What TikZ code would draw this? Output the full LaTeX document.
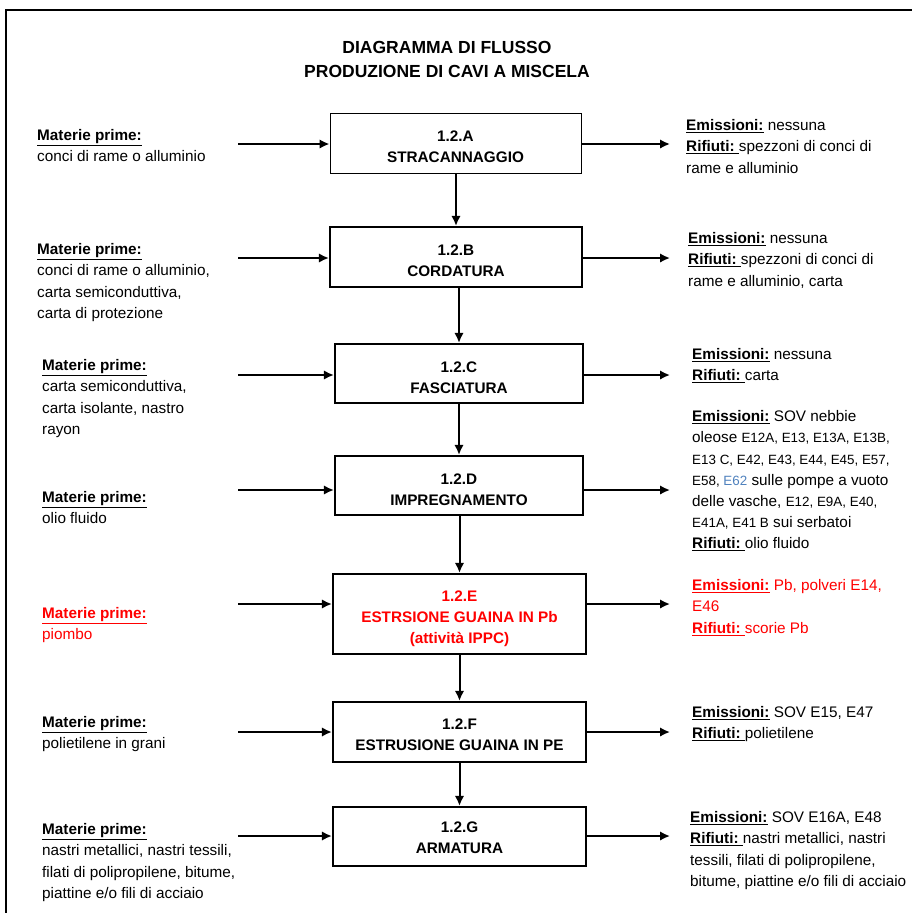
\documentclass[tikz,border=0pt]{standalone}
\usepackage{fontspec}
\setmainfont{Liberation Sans}
\usepackage{tikz}
\usetikzlibrary{arrows.meta}
\definecolor{rosso}{RGB}{255,0,0}
\definecolor{blu}{RGB}{79,129,189}
\tikzstyle{fase}=[draw,line width=2.2pt,minimum width=252pt,minimum height=60pt,inner sep=0pt,align=center,font=\fontsize{15.3}{21.2}\selectfont\bfseries,text height=40pt]
\tikzstyle{nota}=[anchor=north west,align=left,inner sep=0pt,font=\fontsize{15.3}{21.2}\selectfont]
\tikzstyle{flusso}=[draw,line width=2pt,-{Latex[length=10pt,width=9.5pt]}]
\newcommand{\matprime}{\underline{\textbf{Materie prime:}}}
\newcommand{\emiss}{\underline{\textbf{Emissioni:}}}
\newcommand{\rifiuti}{\underline{\textbf{Rifiuti:\ }}}
\newcommand{\cod}[1]{{\fontsize{13.4}{21.2}\selectfont #1}}

\begin{document}
\begin{tikzpicture}[x=1pt,y=-1pt]
    \useasboundingbox (0,0) rectangle (912,913);
    % Frame and title
    \draw[line width=2pt] (912,10) -- (6,10) -- (6,913);
    \node[align=center,font=\fontsize{17.5}{24}\selectfont\bfseries] (titolo) at (447,59)
        {DIAGRAMMA DI FLUSSO\\PRODUZIONE DI CAVI A MISCELA};

    % First we draw the phases
    \node[fase,line width=1pt,minimum width=251pt] (A) at (455.5,143) {1.2.A\\STRACANNAGGIO};
    \node[fase] (B) at (456,257) {1.2.B\\CORDATURA};
    \node[fase,minimum width=248pt,minimum height=59pt] (C) at (459,373.5) {1.2.C\\FASCIATURA};
    \node[fase,minimum width=248pt,minimum height=59pt] (D) at (459,485.5) {1.2.D\\IMPREGNAMENTO};
    \node[fase,minimum width=253pt,minimum height=80pt,text height=62pt,text=rosso] (E) at (459.5,614)
        {1.2.E\\ESTRSIONE GUAINA IN Pb\\(attività IPPC)};
    \node[fase,minimum width=253pt,text height=38pt] (F) at (459.5,732) {1.2.F\\ESTRUSIONE GUAINA IN PE};
    \node[fase,minimum width=253pt,minimum height=59pt,text height=35pt] (G) at (459.5,836.5) {1.2.G\\ARMATURA};

    % Raw materials on the left
    \node[nota] (matA) at (37,129.5) {\matprime\\conci di rame o alluminio};
    \node[nota] (matB) at (37,243.5) {\matprime\\conci di rame o alluminio,\\carta semiconduttiva,\\carta di protezione};
    \node[nota] (matC) at (42,359.5) {\matprime\\carta semiconduttiva,\\carta isolante, nastro\\rayon};
    \node[nota] (matD) at (42,491.5) {\matprime\\olio fluido};
    \node[nota,text=rosso] (matE) at (42,607.5) {\matprime\\piombo};
    \node[nota] (matF) at (42,716.5) {\matprime\\polietilene in grani};
    \node[nota] (matG) at (42,823.5) {\matprime\\nastri metallici, nastri tessili,\\filati di polipropilene, bitume,\\piattine e/o fili di acciaio};

    % Emissions and waste on the right
    \node[nota] (emA) at (686,119.5) {\emiss{} nessuna\\\rifiuti spezzoni di conci di\\rame e alluminio};
    \node[nota] (emB) at (688,232.5) {\emiss{} nessuna\\\rifiuti spezzoni di conci di\\rame e alluminio, carta};
    \node[nota] (emC) at (692,348.5) {\emiss{} nessuna\\\rifiuti carta};
    \node[nota] (emD) at (692,410.5) {\emiss{} SOV nebbie\\
        oleose \cod{E12A, E13, E13A, E13B,}\\
        \cod{E13 C, E42, E43, E44, E45, E57,}\\
        \cod{E58, \textcolor{blu}{E62}} sulle pompe a vuoto\\
        delle vasche, \cod{E12, E9A, E40,}\\
        \cod{E41A, E41 B} sui serbatoi\\
        \rifiuti olio fluido};
    \node[nota,text=rosso] (emE) at (692,579.5) {\emiss{} Pb, polveri E14,\\E46\\\rifiuti scorie Pb};
    \node[nota] (emF) at (692,706.5) {\emiss{} SOV E15, E47\\\rifiuti polietilene};
    \node[nota] (emG) at (690,811.5) {\emiss{} SOV E16A, E48\\\rifiuti nastri metallici, nastri\\tessili, filati di polipropilene,\\bitume, piattine e/o fili di acciaio};

    % Free ends of the side arrows
    \foreach \name/\y in {A/144, B/258, C/375, D/490, E/604, F/732, G/836} {
        \coordinate (in\name) at (238,\y);
        \coordinate (out\name) at (670,\y);
        \path[flusso] (in\name) -- (in\name -| \name.west);
        \path[flusso] (out\name -| \name.east) -- (out\name);
    }

    % Connect phases with arrows
    \foreach \source/\dest in {A/B, B/C, C/D, D/E, E/F, F/G}
        \path[flusso] (\dest.north |- \source.south) -- (\dest.north);

\end{tikzpicture}
\end{document}
